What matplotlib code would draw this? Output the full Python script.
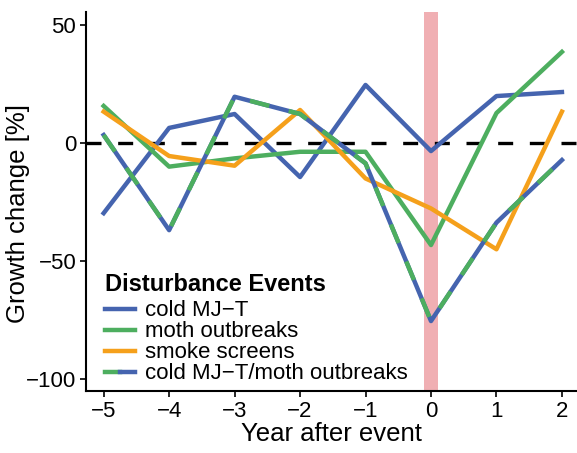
import numpy as np
import matplotlib.pyplot as plt
from matplotlib.lines import Line2D
from matplotlib.legend_handler import HandlerTuple

plt.rcParams['font.family'] = ['Liberation Sans', 'DejaVu Sans']

years = [-5, -4, -3, -2, -1, 0, 1, 2]
cold = [-29.7, 6.4, 12.3, -14.4, 24.6, -3.4, 19.9, 21.6]
moth = [15.7, -10.0, -6.5, -3.7, -3.7, -43.2, 12.7, 38.6]
smoke = [13.3, -5.5, -9.6, 14.0, -15.0, -27.7, -45.0, 13.3]
combined = [3.4, -36.9, 19.6, 12.3, -8.6, -75.4, -33.7, -7.2]

blue = '#4564AF'
green = '#4DAE5F'
orange = '#F5A01B'
pink = '#F0AFB3'

fig = plt.figure(figsize=(5.77, 4.53), dpi=100)
ax = fig.add_axes([0.149, 0.137, 0.851, 0.8365])

ax.axvspan(-0.11, 0.11, color=pink, zorder=0, lw=0)
ax.axhline(0, color='black', lw=2.4, dashes=(4.5, 5), zorder=1)

lw = 3.2
ax.plot(years, cold, color=blue, lw=lw, zorder=3)
ax.plot(years, moth, color=green, lw=lw, zorder=3)
ax.plot(years, smoke, color=orange, lw=lw, zorder=3)
ax.plot(years, combined, color=blue, lw=lw, zorder=3)
ax.plot(years, combined, color=green, lw=lw, dashes=(4.5, 4.5), zorder=3)

ax.set_xlim(-5.27, 2.23)
ax.set_ylim(-105, 55.5)
ax.set_xticks(years)
ax.set_yticks([50, 0, -50, -100])
ax.set_xticklabels([str(y).replace('-', '\u2212') for y in years])
ax.set_yticklabels(['50', '0', '\u221250', '\u2212100'])
ax.tick_params(labelsize=16, width=1.2, length=4, color='black', pad=3)
for s in ['top', 'right']:
    ax.spines[s].set_visible(False)
for s in ['left', 'bottom']:
    ax.spines[s].set_linewidth(1.5)

ax.set_xlabel('Year after event', fontsize=18.5, labelpad=0)
ax.set_ylabel('Growth change [%]', fontsize=18.5)
ax.yaxis.set_label_coords(-0.113, 0.467)

h_cold = Line2D([], [], color=blue, lw=lw)
h_moth = Line2D([], [], color=green, lw=lw)
h_smoke = Line2D([], [], color=orange, lw=lw)
h_g = Line2D([], [], color=green, lw=lw)
h_b = Line2D([], [], color=blue, lw=lw)
leg = ax.legend([h_cold, h_moth, h_smoke, (h_g, h_b)],
                ['cold MJ\u2212T', 'moth outbreaks', 'smoke screens',
                 'cold MJ\u2212T/moth outbreaks'],
                handler_map={tuple: HandlerTuple(ndivide=None, pad=0)},
                title='Disturbance Events', loc='lower left',
                bbox_to_anchor=(0.016, -0.012), frameon=False, fontsize=16,
                title_fontproperties={'weight': 'bold', 'size': 17},
                handlelength=1.35, handletextpad=0.45, labelspacing=0.0,
                borderaxespad=0.3, borderpad=0.2)
leg._legend_box.align = 'left'
leg._legend_box.sep = 3

fig.savefig('out.png', dpi=100)
